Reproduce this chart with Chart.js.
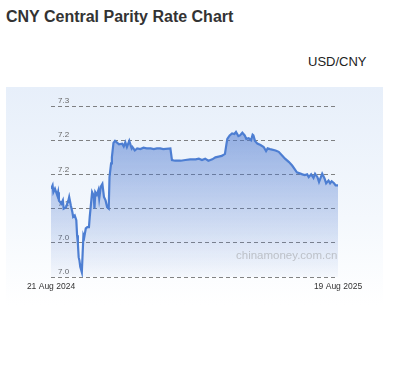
<!DOCTYPE html>
<html>
<head>
<meta charset="utf-8">
<script src="https://cdn.jsdelivr.net/npm/chart.js@4"></script>
<style>
  html, body { margin: 0; padding: 0; background: #fff; width: 398px; height: 373px; overflow: hidden; }
  body { position: relative; font-family: "Liberation Sans", Arial, sans-serif; }
  #title { position: absolute; left: 6px; top: 8px; font-size: 16px; font-weight: bold; color: #333; line-height: 18px; white-space: nowrap; }
  #pair { position: absolute; left: 308px; top: 54px; font-size: 13px; color: #222; line-height: 15px; white-space: nowrap; }
  #panel { position: absolute; left: 6px; top: 87px; width: 377px; height: 218px; background: linear-gradient(to bottom, #e7effa 0%, #f4f8fd 60%, #ffffff 100%); }
  #wm { position: absolute; left: 236px; top: 248px; width: 101px; overflow: hidden; font-size: 11.5px; color: rgba(140,140,140,0.45); white-space: nowrap; line-height: 14px; }
  #wrap { position: absolute; left: 0; top: 0; width: 398px; height: 373px; }
</style>
</head>
<body>
<div id="title">CNY Central Parity Rate Chart</div>
<div id="pair">USD/CNY</div>
<div id="panel"></div>
<div id="wrap"><canvas id="c" width="398" height="373"></canvas></div>
<div id="wm">chinamoney.com.cn</div>
<script>
// Days elapsed since 21 Aug 2024 for each reading
const dayOffsets = [0,2,3,5,8,9,10,13,15,16,19,22,23,25,27,28,30,32,33,34,35,36,37,39,40,41,42,44,46,48,49,51,52,54,55,56,58,60,61,63,65,67,69,71,73,74,76,77,79,81,
  86,90,92,94,96,99,102,103,106,109,113,117,121,126,130,134,138,142,151,153,157,164,170,176,
  183,187,191,195,199,204,208,212,216,220,222,223,226,229,232,234,237,239,242,245,247,250,253,255,256,258,261,265,269,272,274,
  277,284,288,292,296,301,305,308,311,318,321,324,326,329,332,334,337,339,341,343,346,348,351,353,355,358,360,363];
// USD/CNY central parity rate
const rates = [7.129,7.134,7.124,7.129,7.119,7.124,7.112,7.107,7.112,7.100,7.102,7.112,7.117,7.105,7.095,7.088,7.090,7.083,7.061,7.049,7.029,7.024,7.015,7.007,7.034,7.061,7.058,7.071,7.073,7.073,7.088,7.112,7.124,7.119,7.100,7.124,7.120,7.127,7.115,7.132,7.136,7.117,7.112,7.102,7.100,7.146,7.166,7.175,7.196,7.199,
  7.194,7.195,7.191,7.197,7.190,7.199,7.188,7.190,7.185,7.188,7.187,7.189,7.188,7.188,7.187,7.188,7.188,7.187,7.188,7.171,7.170,7.170,7.171,7.172,
  7.172,7.173,7.171,7.173,7.170,7.172,7.175,7.176,7.177,7.180,7.195,7.202,7.207,7.210,7.209,7.212,7.206,7.207,7.211,7.207,7.202,7.203,7.200,7.208,7.207,7.199,7.195,7.193,7.190,7.184,7.188,
  7.187,7.185,7.183,7.178,7.173,7.168,7.163,7.158,7.153,7.150,7.149,7.150,7.146,7.150,7.145,7.151,7.146,7.139,7.145,7.151,7.144,7.137,7.141,7.137,7.140,7.137,7.134,7.134];
const xTickDays = [0, 363];
const xTickLabels = ['21 Aug 2024', '19 Aug 2025'];
const yTickLabels = ['7.0', '7.0', '7.1', '7.2', '7.2', '7.3'];
const yMin = 7.00, yMax = 7.25, yStep = 0.05;

const points = dayOffsets.map((d, i) => ({ x: d, y: rates[i] }));

const ctx = document.getElementById('c').getContext('2d');
new Chart(ctx, {
  type: 'line',
  data: {
    datasets: [{
      data: points,
      borderColor: '#4d7ed2',
      borderWidth: 2.2,
      pointRadius: 0,
      tension: 0,
      fill: 'start',
      backgroundColor: (c) => {
        const a = c.chart.chartArea;
        if (!a) return 'rgba(74,123,208,0.3)';
        const g = c.chart.ctx.createLinearGradient(0, a.top, 0, a.bottom);
        g.addColorStop(0, 'rgba(70,115,205,0.62)');
        g.addColorStop(1, 'rgba(70,115,205,0.04)');
        return g;
      }
    }]
  },
  options: {
    responsive: false,
    animation: false,
    events: [],
    layout: { padding: { left: 51, right: 60, top: 106, bottom: 76 } },
    plugins: { legend: { display: false }, tooltip: { enabled: false } },
    scales: {
      x: {
        type: 'linear',
        min: xTickDays[0],
        max: xTickDays[xTickDays.length - 1],
        afterBuildTicks: (s) => { s.ticks = xTickDays.map(v => ({ value: v })); },
        afterFit: (s) => { s.height = 20; },
        grid: { display: false, drawTicks: false },
        border: { display: false },
        ticks: {
          autoSkip: false,
          maxRotation: 0,
          padding: 5,
          color: '#333',
          font: { family: '"Liberation Sans", Arial, sans-serif', size: 8.5 },
          callback: (v, i) => xTickLabels[i]
        }
      },
      y: {
        min: yMin,
        max: yMax,
        afterFit: (s) => { s.width = 0; },
        grid: { color: 'rgba(90,90,90,0.75)', lineWidth: 1, drawTicks: false },
        border: { display: false, dash: [4, 3] },
        ticks: {
          stepSize: yStep,
          mirror: true,
          padding: 7,
          labelOffset: -5,
          color: '#666',
          font: { family: '"Liberation Sans", Arial, sans-serif', size: 8 },
          callback: (v, i) => yTickLabels[i]
        }
      }
    }
  }
});
</script>
</body>
</html>
